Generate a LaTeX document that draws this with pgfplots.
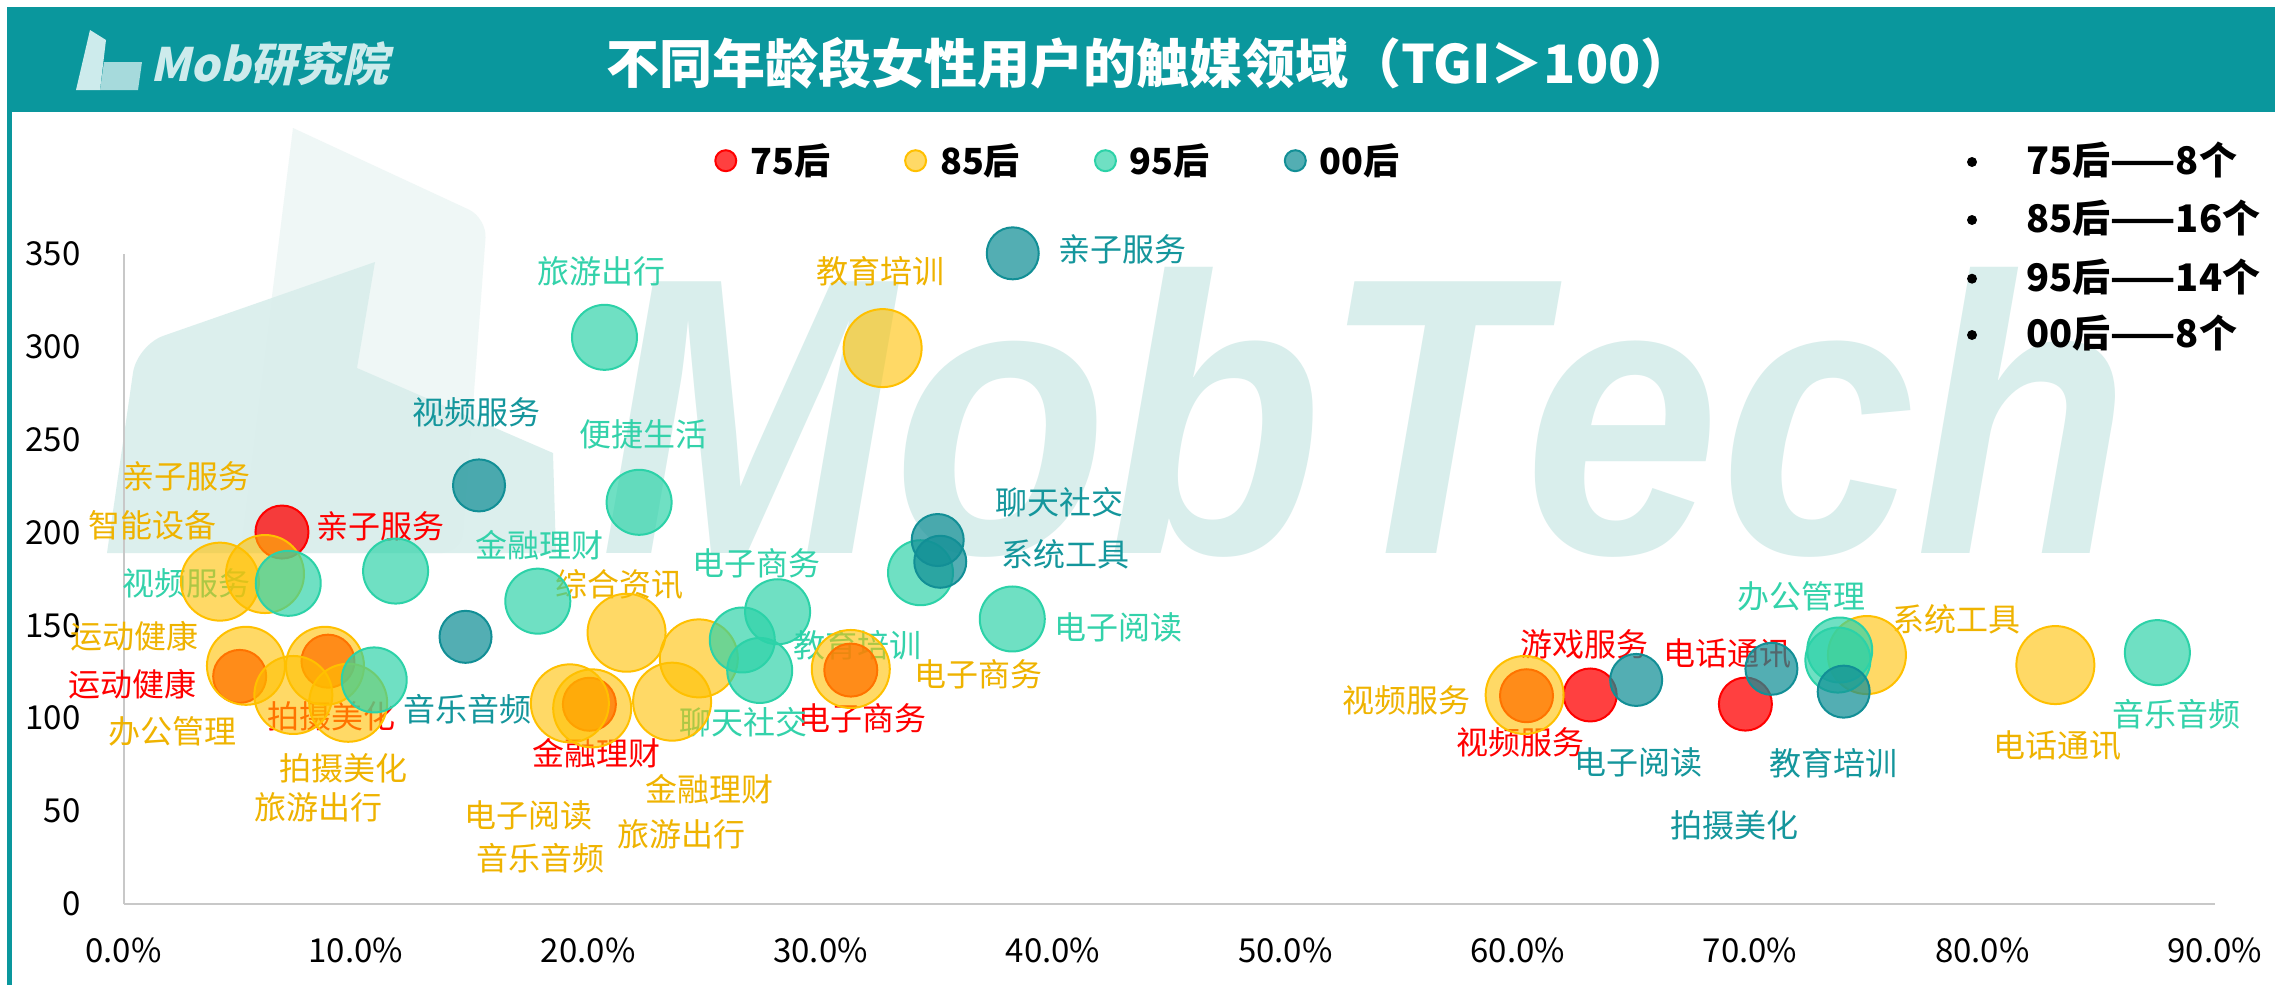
\documentclass[border=0pt]{standalone}
\usepackage{fontspec}
\usepackage{pgfplots}
\pgfplotsset{compat=1.18}
\setmainfont{Noto Sans CJK SC}
\newfontfamily\wmfont{Liberation Sans}
\newfontfamily\logofont[FakeSlant=0.22]{Noto Sans CJK SC}
\definecolor{band}{HTML}{0A979D}
\definecolor{cR}{HTML}{FF0000}
\definecolor{cY}{HTML}{FFC000}
\definecolor{cG}{HTML}{2CD2A8}
\definecolor{cT}{HTML}{128F96}
\definecolor{tY}{HTML}{EFB300}
\definecolor{tG}{HTML}{33D2AA}
\definecolor{tT}{HTML}{14969C}
\definecolor{wm}{HTML}{D9EEEC}
\definecolor{wmlight}{HTML}{EFF7F6}
\definecolor{axgray}{HTML}{C8C8C8}
\definecolor{logoC}{HTML}{CDEBEC}
\newcommand{\lbl}{\fontsize{16}{18}\selectfont}
\begin{document}
\begin{tikzpicture}
\useasboundingbox (0,0) rectangle (1137.5pt,-492.5pt);
\fill[white] (0,0) rectangle (1137.5pt,-492.5pt);
\begin{scope}[x=0.5pt,y=-0.5pt]
  % watermark shapes
  \fill[wmlight] (293,128) [rounded corners=10pt] -- (487,218) -- (462,553) [sharp corners] -- (240,553) -- cycle;
  \fill[wm, opacity=0.9] (107,553) [rounded corners=14pt] -- (137,345) [sharp corners] -- (375,262) -- (357,368) -- (553,453) -- (556,553) -- cycle;
  \node[anchor=base west, inner sep=0pt, text=wm, font=\wmfont\bfseries\itshape\fontsize{197.5}{197.5}\selectfont, xscale=0.89] at (600,553) {MobTech};
  % header
  \fill[band] (7,7) rectangle (2275,112);
  \fill[band] (7,7) rectangle (12,985);
  \node[text=white, font=\bfseries\fontsize{26.5}{28}\selectfont] at (1150,63) {不同年龄段女性用户的触媒领域（TGI＞100）};
  % logo
  \fill[logoC] (76,90) -- (90,30) -- (106,40) -- (100,90) -- cycle;
  \fill[logoC!80!band] (100,90) -- (104,62) -- (142,62) -- (138,90) -- cycle;
  \node[anchor=west, inner sep=0pt, text=logoC, font=\logofont\bfseries\fontsize{23}{24}\selectfont] at (150,64) {Mob研究院};
  % right list
  \foreach \yy/\tt in {160/75后——8个, 218/85后——16个, 276.7/95后——14个, 333/00后——8个}{
    \fill (1972,\yy+2) circle (5);
    \node[anchor=west, inner sep=0pt, font=\bfseries\fontsize{19}{20}\selectfont] at (2026,\yy) {\tt};
  }
\end{scope}
\begin{axis}[
  at={(61.75pt,-452pt)}, anchor=south west,
  scale only axis, width=1045.75pt, height=325.15pt,
  xmin=0, xmax=90, ymin=0, ymax=350,
  axis lines=left,
  axis line style={draw=axgray, line width=1pt, -},
  xtick={0,10,20,30,40,50,60,70,80,90},
  xticklabels={0.0\%,10.0\%,20.0\%,30.0\%,40.0\%,50.0\%,60.0\%,70.0\%,80.0\%,90.0\%},
  ytick={0,50,100,150,200,250,300,350},
  yticklabels={0,50,100,150,200,250,300,350},
  major tick length=0pt,
  tick label style={font=\fontsize{16.5}{18}\selectfont, text=black, inner sep=0pt},
  xticklabel style={anchor=center, yshift=-23pt},
  yticklabel style={anchor=east, xshift=-21.25pt},
  clip=false,
  legend columns=4,
  legend style={at={(0.2823,1.143)}, anchor=west, draw=none, fill=none, inner sep=0pt,
    font=\bfseries\fontsize{18}{20}\selectfont, nodes={inner sep=0pt},
    /tikz/every odd column/.append style={column sep=6.5pt},
    /tikz/every even column/.append style={column sep=37pt}},
  legend cell align=left,
]
\addplot[only marks, mark=*, mark size=13.25pt,
  mark options={draw=cR, fill=cR, fill opacity=0.75, line width=1pt},
  legend image code/.code={\draw[draw=cR, fill=cR, fill opacity=0.75, line width=1pt] (0pt,0pt) circle (5.25pt);}]
  coordinates {(6.82,200.2) (5.0,122.5) (8.8,130.7) (20.05,107.5) (31.3,125.9) (60.38,112.1) (63.12,112.5) (69.8,107.6)};
\addlegendentry{75后}
\addplot[only marks, mark=*, mark size=19.5pt,
  mark options={draw=cY, fill=cY, fill opacity=0.6, line width=1pt},
  legend image code/.code={\draw[draw=cY, fill=cY, fill opacity=0.6, line width=1pt] (0pt,0pt) circle (5.25pt);}]
  coordinates {(4.15,173.5) (6.09,177.6) (5.27,128.2) (8.67,128.2) (7.31,112.5) (9.67,108.3) (19.21,108.0) (20.17,105.3) (21.65,146.0) (24.76,132.2) (23.61,108.9) (32.67,299.2) (31.3,126.5) (60.3,112.5) (75.03,134.0) (83.14,128.6)};
\addlegendentry{85后}
\addplot[only marks, mark=*, mark size=16.25pt,
  mark options={draw=cG, fill=cG, fill opacity=0.68, line width=1pt},
  legend image code/.code={\draw[draw=cG, fill=cG, fill opacity=0.68, line width=1pt] (0pt,0pt) circle (5.25pt);}]
  coordinates {(20.70,305.0) (22.19,216.2) (7.09,172.6) (11.71,179.2) (17.83,163.0) (10.79,120.6) (26.63,142.1) (28.15,157.3) (27.38,125.7) (34.30,178.3) (38.25,153.4) (73.86,136.7) (73.78,131.3) (87.53,135.3)};
\addlegendentry{95后}
\addplot[only marks, mark=*, mark size=13pt,
  mark options={draw=cT, fill=cT, fill opacity=0.72, line width=1pt},
  legend image code/.code={\draw[draw=cT, fill=cT, fill opacity=0.72, line width=1pt] (0pt,0pt) circle (5.25pt);}]
  coordinates {(38.27,350.2) (15.30,225.3) (35.04,195.9) (35.15,184.2) (14.72,143.8) (65.10,120.6) (70.92,126.6) (74.03,114.3)};
\addlegendentry{00后}
% 85 labels
\node[text=tY, font=\lbl] at (2.69,230.1) {亲子服务};
\node[text=tY, font=\lbl] at (1.23,204.0) {智能设备};
\node[text=tY, font=\lbl] at (0.49,144.2) {运动健康};
\node[text=tY, font=\lbl] at (2.09,93.1) {办公管理};
\node[text=tY, font=\lbl] at (9.47,73.2) {拍摄美化};
\node[text=tY, font=\lbl] at (8.40,52.2) {旅游出行};
\node[text=tY, font=\lbl] at (17.45,47.9) {电子阅读};
\node[text=tY, font=\lbl] at (17.96,24.8) {音乐音频};
\node[text=tY, font=\lbl] at (25.24,61.9) {金融理财};
\node[text=tY, font=\lbl] at (24.03,37.7) {旅游出行};
\node[text=tY, font=\lbl] at (21.36,172.2) {综合资讯};
\node[text=tY, font=\lbl] at (32.59,340.7) {教育培训};
\node[text=tY, font=\lbl] at (36.81,123.8) {电子商务};
\node[text=tY, font=\lbl] at (55.23,109.8) {视频服务};
\node[text=tY, font=\lbl] at (78.90,153.4) {系统工具};
\node[text=tY, font=\lbl] at (83.24,85.0) {电话通讯};
% 75 labels
\node[text=cR, font=\lbl] at (11.04,203.1) {亲子服务};
\node[text=cR, font=\lbl] at (0.37,118.2) {运动健康};
\node[text=cR, font=\lbl] at (8.96,100.8) {拍摄美化};
\node[text=cR, font=\lbl] at (20.37,81.1) {金融理财};
\node[text=cR, font=\lbl] at (31.82,99.9) {电子商务};
\node[text=cR, font=\lbl] at (60.11,86.8) {视频服务};
\node[text=cR, font=\lbl] at (62.89,139.8) {游戏服务};
\node[text=cR, font=\lbl] at (69.04,134.9) {电话通讯};
% 95 labels
\node[text=tG, font=\lbl] at (20.59,340.3) {旅游出行};
\node[text=tG, font=\lbl] at (22.40,253.0) {便捷生活};
\node[text=tG, font=\lbl] at (17.92,193.2) {金融理财};
\node[text=tG, font=\lbl] at (2.72,172.6) {视频服务};
\node[text=tG, font=\lbl] at (27.26,183.5) {电子商务};
\node[text=tG, font=\lbl] at (31.60,139.4) {教育培训};
\node[text=tG, font=\lbl] at (26.67,98.0) {聊天社交};
\node[text=tG, font=\lbl] at (42.82,148.9) {电子阅读};
\node[text=tG, font=\lbl] at (72.22,165.4) {办公管理};
\node[text=tG, font=\lbl] at (88.35,102.3) {音乐音频};
% 00 labels
\node[text=tT, font=\lbl] at (42.98,352.4) {亲子服务};
\node[text=tT, font=\lbl] at (15.21,264.4) {视频服务};
\node[text=tT, font=\lbl] at (40.30,216.5) {聊天社交};
\node[text=tT, font=\lbl] at (40.52,188.4) {系统工具};
\node[text=tT, font=\lbl] at (14.82,104.8) {音乐音频};
\node[text=tT, font=\lbl] at (65.20,76.3) {电子阅读};
\node[text=tT, font=\lbl] at (73.58,75.7) {教育培训};
\node[text=tT, font=\lbl] at (69.33,42.5) {拍摄美化};
\end{axis}
\end{tikzpicture}
\end{document}
